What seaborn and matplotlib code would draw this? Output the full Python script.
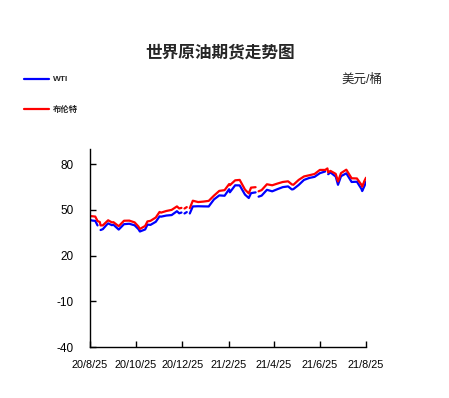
"""
World crude oil futures: WTI vs Brent, Aug 2020 - Aug 2021
"""

import matplotlib

matplotlib.use("Agg")

import matplotlib.dates as mdates
import matplotlib.pyplot as plt
import numpy as np
import pandas as pd
import seaborn as sns

# -----------------------------
# Data (USD / barrel)
# -----------------------------
DATES = [
    "2020-08-25", "2020-08-28", "2020-09-01", "2020-09-04", "2020-09-07", "2020-09-08",
    "2020-09-11", "2020-09-16", "2020-09-18", "2020-09-23", "2020-09-25", "2020-10-02",
    "2020-10-09", "2020-10-16", "2020-10-23", "2020-10-28", "2020-10-30", "2020-11-06",
    "2020-11-09", "2020-11-13", "2020-11-20", "2020-11-25", "2020-11-27", "2020-12-04",
    "2020-12-11", "2020-12-18", "2020-12-21", "2020-12-24", "2020-12-25", "2020-12-28",
    "2020-12-31", "2021-01-01", "2021-01-04", "2021-01-08", "2021-01-15", "2021-01-22",
    "2021-01-29", "2021-02-05", "2021-02-12", "2021-02-19", "2021-02-25", "2021-02-26",
    "2021-03-05", "2021-03-11", "2021-03-18", "2021-03-23", "2021-03-26", "2021-04-01",
    "2021-04-02", "2021-04-05", "2021-04-09", "2021-04-16", "2021-04-23", "2021-04-30",
    "2021-05-07", "2021-05-14", "2021-05-19", "2021-05-21", "2021-05-28", "2021-06-04",
    "2021-06-11", "2021-06-18", "2021-06-25", "2021-07-02", "2021-07-05", "2021-07-06",
    "2021-07-09", "2021-07-16", "2021-07-19", "2021-07-23", "2021-07-30", "2021-08-06",
    "2021-08-13", "2021-08-19", "2021-08-20", "2021-08-23", "2021-08-25",
]

WTI = [
    43.35, 42.97, 42.76, 39.77, np.nan, 36.76,
    37.33, 40.16, 41.11, 39.93, 40.25, 37.05,
    40.60, 40.88, 39.85, 37.39, 35.79, 37.14,
    40.29, 40.13, 42.15, 45.71, 45.53, 46.26,
    46.57, 49.10, 47.74, 48.23, np.nan, 47.62,
    48.52, np.nan, 47.62, 52.24, 52.36, 52.27,
    52.20, 56.85, 59.47, 59.24, 63.53, 61.50,
    66.09, 66.02, 60.00, 57.76, 60.97, 61.45,
    np.nan, 58.65, 59.32, 63.13, 62.14, 63.58,
    64.90, 65.37, 63.36, 63.58, 66.32, 69.62,
    70.91, 71.64, 74.05, 75.16, np.nan, 73.37,
    74.56, 71.81, 66.42, 72.07, 73.95, 68.28,
    68.44, 63.69, 62.32, 65.64, 68.36,
]

BRENT = [
    45.86, 45.81, 45.58, 42.66, 42.01, 39.78,
    39.83, 42.22, 43.15, 41.77, 41.92, 39.27,
    42.85, 42.93, 41.77, 39.12, 37.46, 39.45,
    42.40, 42.78, 44.96, 48.61, 48.18, 49.25,
    49.97, 52.26, 50.91, 51.29, np.nan, 50.86,
    51.80, np.nan, 51.09, 55.99, 55.10, 55.41,
    55.88, 59.34, 62.43, 62.91, 66.88, 66.13,
    69.36, 69.63, 63.28, 60.79, 64.57, 64.86,
    np.nan, 62.15, 62.95, 66.77, 66.11, 67.25,
    68.28, 68.71, 66.66, 66.44, 69.63, 71.89,
    72.69, 73.51, 76.18, 76.17, 77.16, 74.53,
    75.55, 73.59, 68.62, 74.10, 76.33, 70.70,
    70.59, 66.45, 65.18, 69.05, 71.05,
]

SERIES = ["WTI", "布伦特"]
COLORS = ["#0000ff", "#ff0000"]

Y_TICKS = [-40, -10, 20, 50, 80]
X_TICKS = ["2020-08-25", "2020-10-25", "2020-12-25", "2021-02-25",
           "2021-04-25", "2021-06-25", "2021-08-25"]

TITLE = "世界原油期货走势图"
UNIT = "美元/桶"


# -----------------------------
# Helpers
# -----------------------------
def build_frame() -> pd.DataFrame:
    frames = []
    for name, values in zip(SERIES, [WTI, BRENT]):
        part = pd.DataFrame({"date": pd.to_datetime(DATES), "price": values})
        part["series"] = name
        # missing trading days break the line into separate pieces
        part["seg"] = part["price"].isna().cumsum()
        frames.append(part.dropna())
    return pd.concat(frames, ignore_index=True)


def fmt_date(x, pos=None) -> str:
    d = mdates.num2date(x)
    return f"{d.year % 100}/{d.month}/{d.day}"


# -----------------------------
# Plot
# -----------------------------
def main() -> None:
    sns.set_style("white")
    plt.rcParams["font.family"] = ["Liberation Sans", "Noto Sans CJK SC", "DejaVu Sans"]
    plt.rcParams["axes.unicode_minus"] = False

    df = build_frame()

    fig = plt.figure(figsize=(4.49, 3.98), dpi=100)
    ax = fig.add_axes([0.2004, 0.128, 0.6147, 0.498])

    sns.lineplot(
        data=df, x="date", y="price", hue="series", units="seg",
        estimator=None, hue_order=SERIES, palette=COLORS,
        linewidth=1.6, ax=ax,
    )

    ax.set_xlim(pd.Timestamp(X_TICKS[0]), pd.Timestamp(X_TICKS[-1]))
    ax.set_ylim(-40, 90)
    ax.set_yticks(Y_TICKS)
    ax.set_xticks(pd.to_datetime(X_TICKS))
    ax.xaxis.set_major_formatter(plt.FuncFormatter(fmt_date))
    ax.set_xlabel("")
    ax.set_ylabel("")

    for side in ["top", "right"]:
        ax.spines[side].set_visible(False)
    for side in ["left", "bottom"]:
        ax.spines[side].set_color("black")
        ax.spines[side].set_linewidth(1.0)

    ax.tick_params(axis="both", direction="in", length=4, width=1, color="black",
                   bottom=True, left=True, labelcolor="black")
    ax.tick_params(axis="x", labelsize=7.8, pad=9)
    ax.tick_params(axis="y", labelsize=8.5, pad=12)

    handles, labels = ax.get_legend_handles_labels()
    ax.legend(
        handles, labels, loc="upper left",
        bbox_to_anchor=(0.0535, 0.81), bbox_transform=fig.transFigure,
        frameon=False, borderpad=0, borderaxespad=0,
        handlelength=3.0, handletextpad=0.45, labelspacing=2.75,
        prop={"size": 6, "weight": "bold"},
    )

    fig.text(0.49, 1 - 53 / 398, TITLE, ha="center", va="center",
             fontsize=12, fontweight="bold")
    fig.text(382 / 449, 1 - 80 / 398, UNIT, ha="right", va="center", fontsize=9)

    fig.savefig("out.png", dpi=100)
    plt.close(fig)


if __name__ == "__main__":
    main()
